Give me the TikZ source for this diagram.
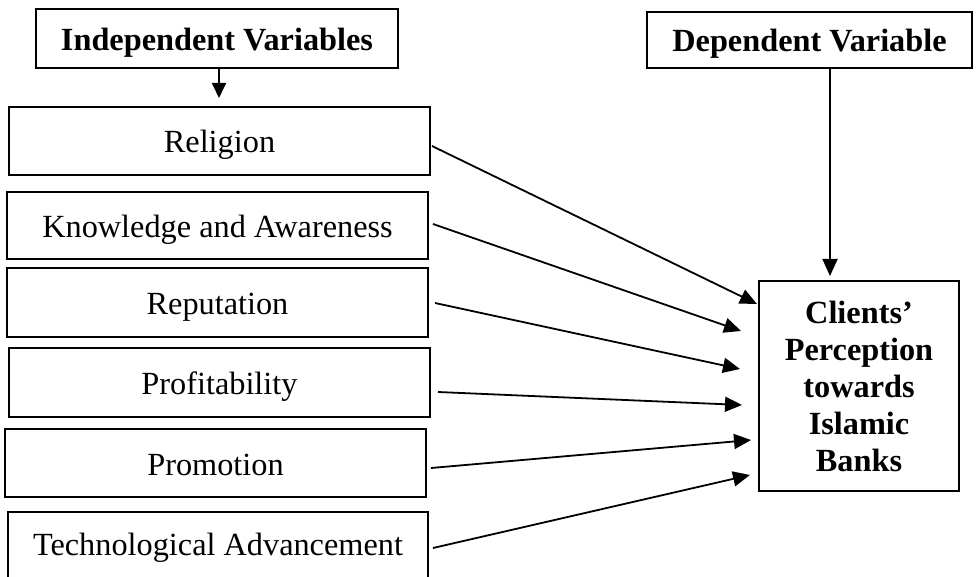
\documentclass[tikz,border=0pt]{standalone}
\usepackage{fontspec}
\setmainfont{Liberation Serif}
\usetikzlibrary{arrows.meta,calc}
\begin{document}
\begin{tikzpicture}[x=1pt,y=-1pt,
  box/.style={draw,line width=2pt,inner sep=0pt,font=\fontsize{32.3}{37}\selectfont,text height=28pt,text depth=4pt},
  ivbox/.style={box,minimum width=421pt},
  hbox/.style={box,font=\fontsize{32.3}{37}\selectfont\bfseries},
  conn/.style={line width=1.8pt,-{Triangle[length=17pt,width=15pt]}}]
\useasboundingbox (0,0) rectangle (979,577);
\clip (0,0) rectangle (979,577);

\node[hbox,minimum width=362pt,minimum height=59pt] (ind) at (217,38.5) {Independent Variables};
\node[hbox,minimum width=325pt,minimum height=56pt] (dep) at (809.5,40) {Dependent Variable};

\node[ivbox,minimum height=68pt] (rel) at (219.5,141) {Religion};
\node[ivbox,minimum height=67pt] (kno) at (217.5,225.5) {Knowledge and Awareness};
\node[ivbox,minimum height=69pt] (rep) at (217.5,302.5) {Reputation};
\node[ivbox,minimum height=69pt] (pro) at (219.5,382.5) {Profitability};
\node[ivbox,minimum height=68pt] (prm) at (215.5,463) {Promotion};
\node[ivbox,minimum width=420pt,minimum height=70pt,text height=20pt,text depth=4pt] (tec) at (218,547) {Technological Advancement};

\node[draw,line width=2pt,inner sep=0pt,font=\fontsize{32.3}{37}\selectfont\bfseries,minimum width=200pt,minimum height=210pt,align=center] (cl) at (859,386)
  {Clients’\\Perception\\towards\\Islamic\\Banks};

\coordinate (ia) at (219,98);
\draw[line width=1.8pt,-{Triangle[length=15pt,width=14pt]}] ($(ind.south)+(2,0)$) -- (ia);
\draw[conn] ($(dep.south)+(20.5,0)$) -- ($(cl.north)+(-29,-4)$);

\draw[conn] ($(rel.east)+(1,5)$) -- ($(cl.west)+(-1,-82)$);
\draw[conn] ($(kno.east)+(4,-1.5)$) -- ($(cl.west)+(-17,-55)$);
\draw[conn] ($(rep.east)+(6,0.5)$) -- ($(cl.west)+(-18,-17)$);
\draw[conn] ($(pro.east)+(7,9.5)$) -- ($(cl.west)+(-16,19)$);
\draw[conn] ($(prm.east)+(4,5)$) -- ($(cl.west)+(-7,54)$);
\draw[conn] ($(tec.east)+(4,1)$) -- ($(cl.west)+(-8,89)$);
\end{tikzpicture}
\end{document}
